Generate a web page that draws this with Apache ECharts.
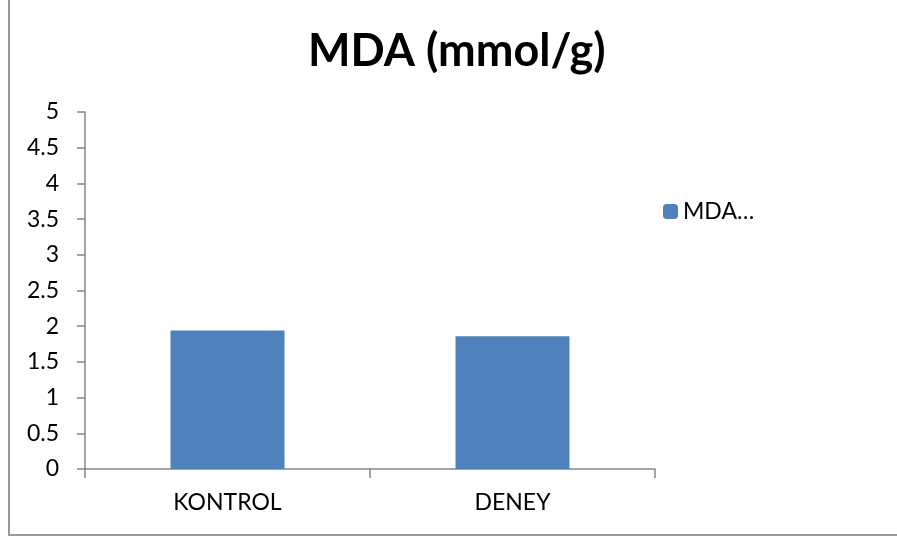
<!DOCTYPE html>
<html>
<head>
<meta charset="utf-8">
<script src="https://cdn.jsdelivr.net/npm/echarts@6/dist/echarts.min.js"></script>
<style>
  html, body { margin: 0; padding: 0; background: #fff; overflow: hidden; }
  #main { width: 897px; height: 537px; }
</style>
</head>
<body>
<div id="main"></div>
<script>
// data
const categories = ['KONTROL', 'DENEY'];
const mdaValues = [1.94, 1.86];
const seriesName = 'MDA (mmol/g)';

var chartDom = document.getElementById('main');
var myChart = echarts.init(chartDom);
var option;

const axisGrey = '#868686';
const fontFam = 'Lato, "Open Sans", sans-serif';

option = {
  backgroundColor: '#fff',
  animation: false,
  title: {
    text: 'MDA (mmol/g)',
    left: 303,
    top: 24,
    textStyle: { fontFamily: fontFam, fontWeight: 'bold', fontSize: 45, color: '#000' }
  },
  legend: {
    data: [seriesName],
    left: 658,
    top: 195,
    orient: 'vertical',
    itemWidth: 15,
    itemHeight: 15,
    itemGap: 6,
    formatter: () => 'MDA…',
    textStyle: { fontFamily: fontFam, fontSize: 23, color: '#000' }
  },
  grid: { left: 85, right: 242, top: 112, bottom: 68 },
  xAxis: {
    type: 'category',
    data: categories,
    axisLine: { lineStyle: { color: axisGrey, width: 1.5 } },
    axisTick: { show: true, length: 9, lineStyle: { color: axisGrey, width: 1.5 } },
    axisLabel: { margin: 22, fontFamily: fontFam, fontSize: 23, color: '#000' }
  },
  yAxis: {
    type: 'value',
    min: 0,
    max: 5,
    interval: 0.5,
    splitLine: { show: false },
    axisLine: { show: true, lineStyle: { color: axisGrey, width: 1.5 } },
    axisTick: { show: true, length: 8, lineStyle: { color: axisGrey, width: 1.5 } },
    axisLabel: { margin: 26, fontFamily: fontFam, fontSize: 23, color: '#000' }
  },
  series: [
    {
      name: seriesName,
      type: 'bar',
      data: mdaValues,
      barCategoryGap: '60%',
      itemStyle: { color: '#4f81bd' }
    }
  ],
  // outer chart frame: only left and bottom edges fall inside the picture
  graphic: [
    {
      type: 'line',
      shape: { x1: 9, y1: 0, x2: 9, y2: 535 },
      style: { stroke: '#9a9a9a', lineWidth: 2 },
      silent: true
    },
    {
      type: 'line',
      shape: { x1: 8, y1: 535, x2: 897, y2: 535 },
      style: { stroke: '#9a9a9a', lineWidth: 2 },
      silent: true
    }
  ]
};

option && myChart.setOption(option, true);
window.onresize = () => {
  myChart.resize();
};
</script>
</body>
</html>
